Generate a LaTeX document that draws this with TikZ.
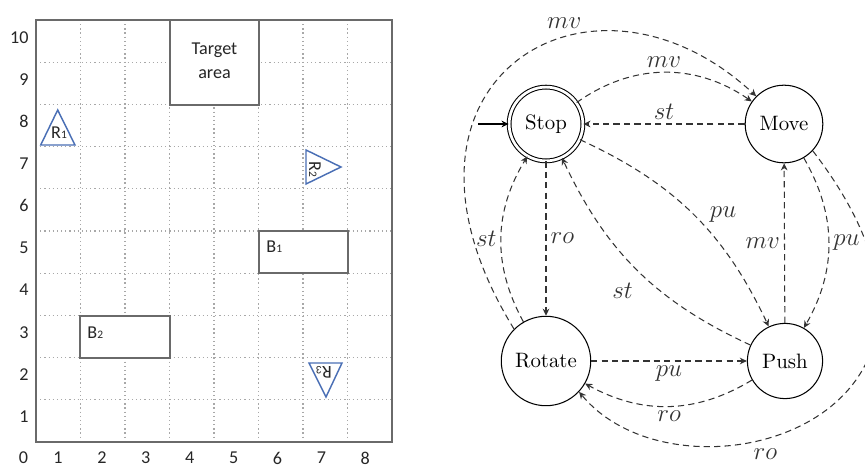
\documentclass[tikz,border=0pt]{standalone}
\usepackage{fontspec}
\newfontfamily\calibri{Carlito}
\usetikzlibrary{arrows.meta}
\definecolor{robotblue}{HTML}{4A6FB5}
\definecolor{framegray}{HTML}{6A6A6A}
\definecolor{dotgray}{HTML}{A8A8A8}
\definecolor{numgray}{HTML}{262626}
\newcommand{\rsub}[1]{{\fontsize{5.5}{6}\selectfont #1}}
\begin{document}
\begin{tikzpicture}[x=0.48pt, y=-0.48pt,
  num/.style={font=\calibri\fontsize{8.7}{11.5}\selectfont, text=numgray, inner sep=0pt},
  gridline/.style={dotgray, line width=0.6pt, dash pattern=on 0.6pt off 1.4pt},
  obst/.style={draw=framegray, line width=0.9pt, fill=white},
  robot/.style={draw=robotblue, line width=0.7pt, fill=white},
  stnode/.style={draw, circle, line width=0.5pt, inner sep=5pt},
  tr/.style={-{Stealth[length=3.4pt, width=3.2pt]}, dash pattern=on 3pt off 2pt,
             line width=0.5pt, black!80},
  lbl/.style={font=\large, inner sep=2pt}
]
  \useasboundingbox (0,0) rectangle (865,467);
  % grid
  \foreach \i in {1,...,7}
    \draw[gridline] ({36+44.5*\i},20) -- ({36+44.5*\i},442);
  \foreach \j in {1,...,9}
    \draw[gridline] (36,{20+42.2*\j}) -- (392,{20+42.2*\j});
  \foreach \j in {1,...,10}
    \node[num, anchor=east] (y\j) at (29,{37.5+42.1*(10-\j)}) {\j};
  \node[num] (x0) at (23.5,458) {0};
  \foreach \i in {1,...,8}
    \node[num] (x\i) at ({58+43.9*(\i-1)},458) {\i};
  % obstacles and target
  \draw[obst] (170,20) rectangle (259,105);
  \node[num, align=center] (target) at (214.5,61) {Target\\area};
  \draw[obst] (259,231) rectangle (348,273);
  \node[num, anchor=west] (b1) at (266,247) {B\rsub{1}};
  \draw[obst] (80,316) rectangle (170,358);
  \node[num, anchor=west] (b2) at (87,333) {B\rsub{2}};
  \draw[framegray, line width=1pt] (36,20) rectangle (392,442);
  % robots
  \draw[robot] (57.7,110) -- (75,145) -- (40.7,145) -- cycle;
  \node[num] (r1) at (59,133) {R\rsub{1}};
  \draw[robot] (306,150) -- (341,167) -- (306,184) -- cycle;
  \node[num, rotate=-90] (r2) at (315,169) {R\rsub{2}};
  \draw[robot] (309,363) -- (342,363) -- (326,397) -- cycle;
  \node[num, rotate=180] (r3) at (324,372) {R\rsub{3}};

  % automaton
  \node[stnode, double, double distance=1.3pt] (stop) at (546,124) {Stop};
  \node[stnode] (move)   at (784,124) {Move};
  \node[stnode] (rotate) at (546,361) {Rotate};
  \node[stnode] (push)   at (785,361) {Push};
  \coordinate (init) at (478,124);
  \draw[-{Stealth[length=3.4pt, width=3.2pt]}, line width=0.5pt] (init) -- (stop);

  \draw[tr] (stop) to[bend left=35] node[lbl, above] {$mv$} (move);
  \draw[tr] (move) -- node[lbl, above] {$st$} (stop);
  \draw[tr] (stop) -- node[lbl, right] {$ro$} (rotate);
  \draw[tr] (rotate) to[bend left=30] node[lbl, left] {$st$} (stop);
  \draw[tr] (stop) to[bend left=20] node[lbl, above right, pos=0.57] {$pu$} (push);
  \draw[tr] (push) to[bend left=20] node[lbl, below left, pos=0.5, yshift=-4pt] {$st$} (stop);
  \draw[tr] (push) -- node[lbl, left] {$mv$} (move);
  \draw[tr] (move) to[bend left=30] node[lbl, right] {$pu$} (push);
  \draw[tr] (rotate) -- node[lbl, below] {$pu$} (push);
  \draw[tr] (push) to[bend left=30] node[lbl, below] {$ro$} (rotate);
  \draw[tr] (rotate.135) .. controls (362,82) and (590,-58) .. node[lbl, above, pos=0.62, yshift=2pt] {$mv$} (move.135);
  \draw[tr] (move.-43) .. controls (1020,420) and (682,516) .. node[lbl, below, pos=0.6, yshift=-3pt] {$ro$} (rotate.-43);
\end{tikzpicture}
\end{document}
